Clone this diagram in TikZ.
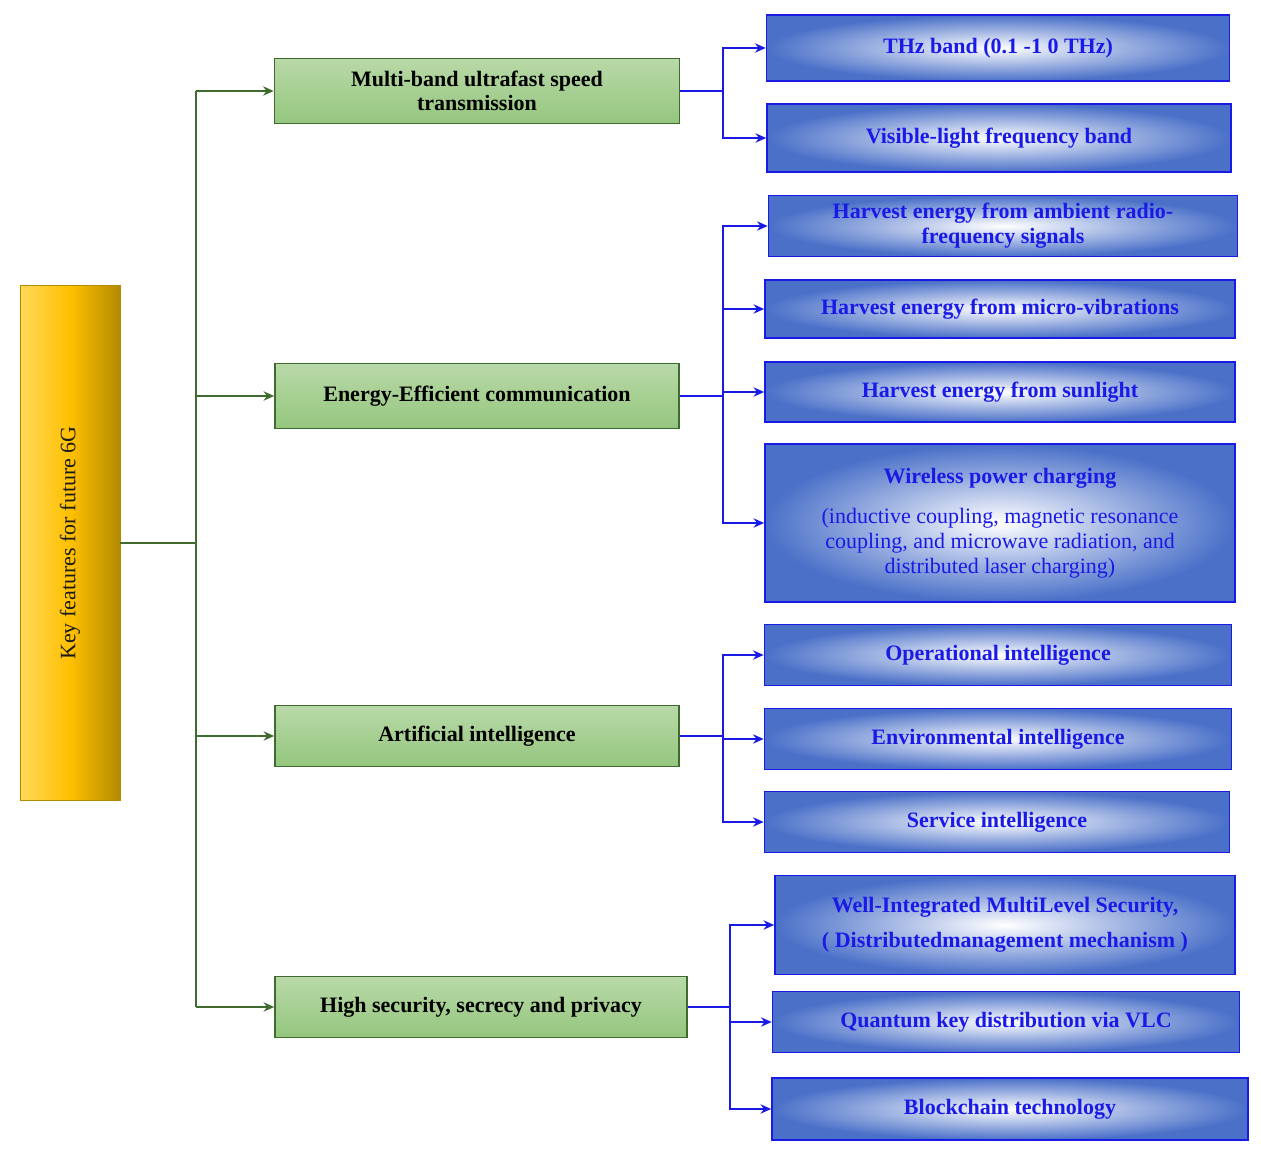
\documentclass[tikz,border=0pt]{standalone}
\usepackage{fontspec}
\setmainfont{Liberation Serif}
\usetikzlibrary{arrows.meta}
\definecolor{gdark}{HTML}{3F6B2E}
\definecolor{gtop}{HTML}{B9D9A8}
\definecolor{gbot}{HTML}{94C67E}
\definecolor{bblue}{HTML}{1A1AE6}
\definecolor{bfill}{HTML}{4A70C8}
\definecolor{ytxt}{HTML}{1A1A1A}
\definecolor{yl}{HTML}{FFD95A}
\definecolor{ym}{HTML}{FFC000}
\definecolor{yd}{HTML}{B38A00}
\tikzset{
  px/.style={x=0.75pt,y=-0.75pt},
  root/.style={draw=yd,left color=yl,right color=yd,middle color=ym,shading angle=90,inner sep=0},
  grn/.style={draw=gdark,line width=1.2pt,top color=gtop,bottom color=gbot,font=\bfseries\fontsize{16.5}{18.5}\selectfont,align=center,inner sep=0},
  blu/.style={draw=bblue,line width=1.2pt,inner color=white,outer color=bfill,text=bblue,font=\bfseries\fontsize{16.5}{18.5}\selectfont,align=center,inner sep=0},
  garr/.style={draw=gdark,line width=1.3pt,-{Stealth[length=8pt,width=7pt]}},
  gline/.style={draw=gdark,line width=1.3pt},
  barr/.style={draw=bblue,line width=1.3pt,-{Stealth[length=8pt,width=7pt]}},
  bline/.style={draw=bblue,line width=1.3pt},
}
\newcommand{\bx}[6]{\node[#1,minimum width={(#4)*0.75pt},minimum height={(#5)*0.75pt}] (#2) at (#3) {#6};}
\begin{document}
\begin{tikzpicture}[px]
\useasboundingbox (0,0) rectangle (1261,1155);
\bx{root}{r}{70,543}{100}{515}{}
\node[rotate=90,font=\fontsize{16.5}{18}\selectfont,text=ytxt] at (r.center) {Key features for future 6G};
\bx{grn}{g1}{477,91}{405}{65}{Multi-band ultrafast speed\\transmission}
\bx{grn}{g2}{477,396}{404}{65}{Energy-Efficient communication}
\bx{grn}{g3}{477,736}{404}{61}{Artificial intelligence}
\bx{grn}{g4}{481,1007}{412}{61}{High security, secrecy and privacy}
\bx{blu}{b1}{998,48}{463}{66}{THz band (0.1 -1 0 THz)}
\bx{blu}{b2}{999,138}{464}{68}{Visible-light frequency band}
\bx{blu}{b3}{1003,226}{469}{61}{Harvest energy from ambient radio-\\frequency signals}
\bx{blu}{b4}{1000,309}{470}{58}{Harvest energy from micro-vibrations}
\bx{blu}{b5}{1000,392}{470}{60}{Harvest energy from sunlight}
\bx{blu}{b6}{1000,523}{470}{158}{Wireless power charging\\[12pt]\mdseries (inductive coupling, magnetic resonance\\\mdseries coupling, and microwave radiation, and\\\mdseries distributed laser charging)}
\bx{blu}{b7}{998,655}{467}{61}{Operational intelligence}
\bx{blu}{b8}{998,739}{467}{61}{Environmental intelligence}
\bx{blu}{b9}{997,822}{465}{61}{Service intelligence}
\bx{blu}{b10}{1005,925}{460}{99}{Well-Integrated MultiLevel Security,\\[8pt]( Distributedmanagement mechanism )}
\bx{blu}{b11}{1006,1022}{467}{61}{Quantum key distribution via VLC}
\bx{blu}{b12}{1010,1109}{476}{62}{Blockchain technology}
\coordinate (t) at (196,543);
\draw[gline] (r.east) -- (t);
\draw[gline] (196,91) -- (196,1007);
\foreach \g in {g1,g2,g3,g4}{\draw[garr] (t |- \g.west) -- (\g.west);}
\foreach \g/\x/\list in {g1/723/{b1,b2}, g2/723/{b3,b4,b5,b6}, g3/723/{b7,b8,b9}, g4/730/{b10,b11,b12}}{
  \draw[bline] (\g.east) -- (\x,0 |- \g.east);
  \foreach \b in \list {\draw[barr] (\x,0 |- \g.east) -- (\x,0 |- \b.west) -- (\b.west);}
}
\end{tikzpicture}
\end{document}
